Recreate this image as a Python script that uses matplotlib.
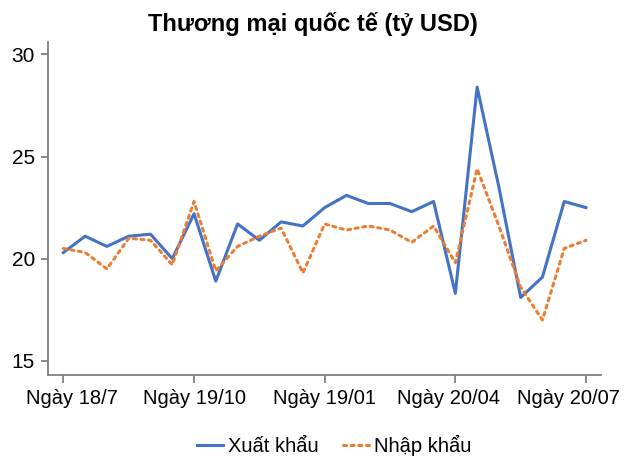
import matplotlib
matplotlib.use('Agg')
import matplotlib.pyplot as plt
from matplotlib.transforms import ScaledTranslation

tick_labels = ['Ngày 18/7', 'Ngày 19/10', 'Ngày 19/01', 'Ngày 20/04', 'Ngày 20/07']
tick_index = [0, 6, 12, 18, 24]

xuat_khau = [20.3, 21.1, 20.6, 21.1, 21.2, 20.0, 22.2, 18.9, 21.7, 20.9,
             21.8, 21.6, 22.5, 23.1, 22.7, 22.7, 22.3, 22.8, 18.3, 28.4,
             23.5, 18.1, 19.1, 22.8, 22.5]
nhap_khau = [20.5, 20.3, 19.5, 21.0, 20.9, 19.7, 22.8, 19.4, 20.6, 21.1,
             21.5, 19.3, 21.7, 21.4, 21.6, 21.4, 20.8, 21.6, 19.8, 24.4,
             21.6, 18.6, 17.0, 20.5, 20.9]

plt.rcParams['font.family'] = ['Liberation Sans', 'DejaVu Sans']

fig = plt.figure(figsize=(6.25, 4.58), dpi=100)
ax = fig.add_axes([0.077, 0.181, 0.885, 0.727])

x = list(range(len(xuat_khau)))
ax.plot(x, xuat_khau, color='#4472C4', lw=2.2, label='Xuất khẩu')
ax.plot(x, nhap_khau, color='#ED7D31', lw=2.2, linestyle=(0, (1, 1.5)),
        dash_capstyle='round', label='Nhập khẩu')

ax.set_xlim(-0.7, 24.7)
ax.set_ylim(14.3, 30.6)
ax.set_yticks([15, 20, 25, 30])
ax.set_xticks(tick_index)
ax.set_xticklabels(tick_labels)

for s in ['top', 'right']:
    ax.spines[s].set_visible(False)
for s in ['left', 'bottom']:
    ax.spines[s].set_color('#7f7f7f')
    ax.spines[s].set_linewidth(1.3)
ax.tick_params(colors='#7f7f7f', labelcolor='black', length=6, width=1.3)
ax.tick_params(axis='x', labelsize=14.5, pad=4)
ax.tick_params(axis='y', labelsize=15, length=5, pad=4.5)

# nudge end labels inward like the original
shifts = [9, 0, 0, -7, -18]
for lab, dx in zip(ax.get_xticklabels(), shifts):
    lab.set_transform(lab.get_transform() + ScaledTranslation(dx / 100, 0, fig.dpi_scale_trans))

fig.text(0.5, 0.947, 'Thương mại quốc tế (tỷ USD)', ha='center', va='center',
         fontsize=17, fontweight='bold')

fig.legend(loc='center', bbox_to_anchor=(0.535, 0.028), ncol=2, frameon=False,
           fontsize=14.5, handlelength=1.3, columnspacing=1.2, handletextpad=0.25)

fig.savefig('out.png', dpi=100)
